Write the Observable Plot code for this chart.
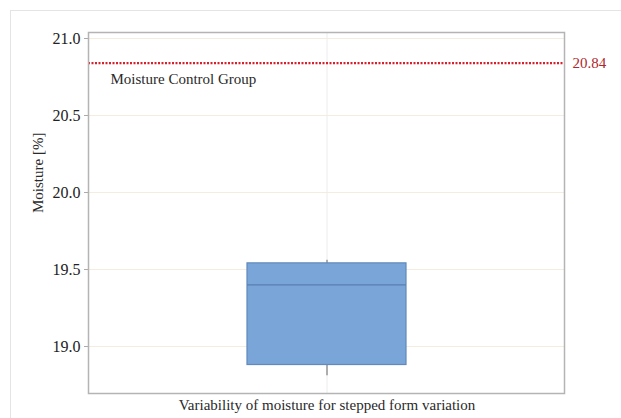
<!DOCTYPE html>
<html>
<head>
<meta charset="utf-8">
<script src="https://cdn.jsdelivr.net/npm/d3@7"></script>
<script src="https://cdn.jsdelivr.net/npm/@observablehq/plot@0.6"></script>
<style>
  html, body { margin: 0; padding: 0; background: #fff; overflow: hidden; }
  #wrap { position: relative; width: 621px; height: 418px; }
  #outer { position: absolute; left: 10px; top: 10px; width: 700px; height: 500px;
           border-left: 1px solid #e4e4e4; border-top: 1px solid #e4e4e4; }
  #chart { position: absolute; left: 0; top: 0; }
</style>
</head>
<body>
<div id="wrap">
  <div id="outer"></div>
  <div id="chart"></div>
</div>
<script>
// Box summary for the stepped form variation
const categories = ["Variability of moisture for stepped form variation"];
const whiskerLow = [18.81];
const q1 = [18.88];
const median = [19.40];
const q3 = [19.54];
const whiskerHigh = [19.56];

// Reference moisture of the control group
const controlLabel = "Moisture Control Group";
const controlValue = 20.84;

const yTicks = [19.0, 19.5, 20.0, 20.5, 21.0];

const boxes = categories.map((c, i) => ({
  cat: c, lo: whiskerLow[i], q1: q1[i], med: median[i], q3: q3[i], hi: whiskerHigh[i]
}));

const chart = Plot.plot({
  width: 621,
  height: 418,
  marginLeft: 88,
  marginRight: 57,
  marginTop: 32,
  marginBottom: 25,
  style: "font-family: 'Liberation Serif', serif; font-size: 15px; color: #333; background: transparent;",
  x: { domain: categories, padding: 0.5, label: null },
  y: { domain: [18.695, 21.039], label: null },
  marks: [
    Plot.gridY(yTicks, { stroke: "#f3ecdf", strokeOpacity: 1 }),
    Plot.gridX(categories, { stroke: "#ececec", strokeOpacity: 1 }),
    Plot.axisY(yTicks, { tickFormat: d3.format(".1f"), tickSize: 4, tickPadding: 4, stroke: "#aaa", fill: "#222", fontSize: 16 }),
    Plot.axisX({ tickSize: 0, tickPadding: 6, fill: "#2a2a2a", fontSize: 15 }),
    Plot.text(["Moisture [%]"], { frameAnchor: "left", rotate: -90, dx: -50, fill: "#2a2a2a", fontSize: 15 }),
    Plot.ruleX(boxes, { x: "cat", y1: "lo", y2: "hi", stroke: "#666", strokeWidth: 1 }),
    Plot.barY(boxes, { x: "cat", y1: "q1", y2: "q3", fill: "#7aa5d8", stroke: "#6189bb", strokeWidth: 1.2 }),
    Plot.tickY(boxes, { x: "cat", y: "med", stroke: "#5a7fb0", strokeWidth: 1.2 }),
    Plot.ruleY([controlValue], { stroke: "#d8202c", strokeWidth: 2.2, strokeDasharray: "2,1.5" }),
    Plot.text([controlValue], { y: d => d, text: d => d3.format(".2f")(d), frameAnchor: "right", textAnchor: "start", dx: 8, fill: "#b0262c", fontSize: 15 }),
    Plot.text([controlLabel], { y: () => controlValue, text: d => d, frameAnchor: "left", textAnchor: "start", dx: 22, dy: 16, fill: "#2a2a2a", fontSize: 15 }),
    Plot.frame({ stroke: "#b4b4b4", strokeWidth: 1.5 })
  ]
});

document.getElementById("chart").appendChild(chart);
</script>
</body>
</html>
